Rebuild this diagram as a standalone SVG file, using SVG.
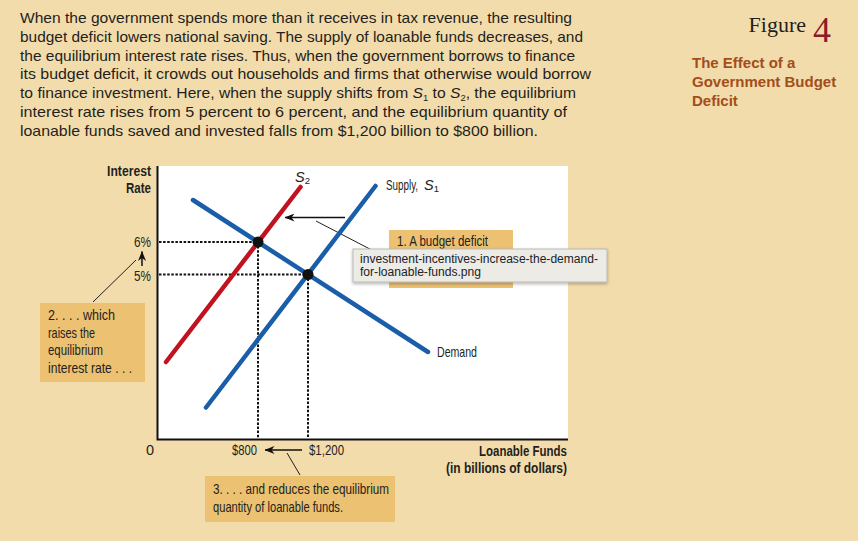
<svg xmlns="http://www.w3.org/2000/svg" width="858" height="541" viewBox="0 0 858 541">
<style>
.para{font-family:"Liberation Sans",Arial,sans-serif;font-size:15px;fill:#231f20}
.cond{font-family:"Liberation Sans",Arial,sans-serif;font-size:14.5px;fill:#231f20}
.bold{font-weight:bold}
.it{font-style:italic}
.sub{font-size:9.5px;font-style:normal}
.side{font-family:"Liberation Sans",Arial,sans-serif;font-size:15px;font-weight:bold;fill:#a24e1b}
.curve{fill:none;stroke-width:4.5;stroke-linecap:round}
.dot{fill:none;stroke:#111;stroke-width:2;stroke-dasharray:2.5 1.6}
.thin{fill:none;stroke:#231f20;stroke-width:1}
.box{fill:#ecc171}
.arr{fill:none;stroke:#111;stroke-width:1.5}
.tip{font-family:"Liberation Sans",Arial,sans-serif;font-size:12px;fill:#222}
</style>
<defs>
<marker id="ah" viewBox="0 0 10 8" refX="9.5" refY="4" markerWidth="10" markerHeight="8" markerUnits="userSpaceOnUse" orient="auto">
<path d="M10,4 L0,0 L3,4 L0,8 Z" fill="#111"/>
</marker>
<filter id="sh" x="-10%" y="-30%" width="120%" height="170%">
<feDropShadow dx="0" dy="1.5" stdDeviation="1.5" flood-color="#000" flood-opacity="0.3"/>
</filter>
</defs>
<rect width="858" height="541" fill="#f3dcab"/>
<g id="paragraph" class="para">
<text x="20" y="23" textLength="552" lengthAdjust="spacingAndGlyphs">When the government spends more than it receives in tax revenue, the resulting</text>
<text x="20" y="41.8" textLength="563" lengthAdjust="spacingAndGlyphs">budget deficit lowers national saving. The supply of loanable funds decreases, and</text>
<text x="20" y="60.6" textLength="555" lengthAdjust="spacingAndGlyphs">the equilibrium interest rate rises. Thus, when the government borrows to finance</text>
<text x="20" y="79.4" textLength="571" lengthAdjust="spacingAndGlyphs">its budget deficit, it crowds out households and firms that otherwise would borrow</text>
<text x="20" y="98.2" textLength="556" lengthAdjust="spacingAndGlyphs">to finance investment. Here, when the supply shifts from <tspan font-style="italic">S</tspan><tspan font-size="9" dy="3">1</tspan><tspan dy="-3"> to </tspan><tspan font-style="italic">S</tspan><tspan font-size="9" dy="3">2</tspan><tspan dy="-3">, the equilibrium</tspan></text>
<text x="20" y="117" textLength="547" lengthAdjust="spacingAndGlyphs">interest rate rises from 5 percent to 6 percent, and the equilibrium quantity of</text>
<text x="20" y="135.8" textLength="518" lengthAdjust="spacingAndGlyphs">loanable funds saved and invested falls from $1,200 billion to $800 billion.</text>
</g>
<g id="figure-title">
<text x="806" y="32" text-anchor="end" font-family="Liberation Serif,serif" font-size="22" fill="#231f20">Figure</text>
<text x="813" y="42" font-family="Liberation Serif,serif" font-size="36" fill="#8e1a2c">4</text>
<text class="side" x="692" y="68">The Effect of a</text>
<text class="side" x="692" y="87">Government Budget</text>
<text class="side" x="692" y="106">Deficit</text>
</g>
<g id="plot">
<rect x="157" y="166" width="411" height="273" fill="#fff"/>
<path d="M157.5,166 V439.5 H568" fill="none" stroke="#111" stroke-width="2"/>
</g>
<g id="connectors">
<path class="dot" d="M159,242 H258 M159,274.5 H308 M258,242 V438 M308,274.5 V438"/>
<path class="arr" d="M345,217.5 H285" marker-end="url(#ah)"/>
<path class="thin" d="M316,221 L389,259"/>
<path class="arr" d="M142,266 V251.5" marker-end="url(#ah)"/>
<path class="thin" d="M93,302 L136,260"/>
<path class="arr" d="M302,450 H265" marker-end="url(#ah)"/>
<path class="thin" d="M287,453 L300,475"/>
</g>
<g id="demand">
<path class="curve" stroke="#1a5ea9" d="M193,200 L428,352"/>
<text class="cond" x="437" y="357" textLength="40" lengthAdjust="spacingAndGlyphs">Demand</text>
</g>
<g id="supply-s1">
<path class="curve" stroke="#1a5ea9" d="M206,407.5 L375.5,186"/>
<text class="cond" transform="translate(386,190) scale(0.68,1)">Supply,</text>
<text class="cond it" x="424" y="190">S<tspan class="sub" dy="2">1</tspan></text>
</g>
<g id="supply-s2">
<path class="curve" stroke="#c0121f" d="M166,362 L300.5,187"/>
<text class="cond it" x="295" y="182">S<tspan class="sub" dy="2">2</tspan></text>
</g>
<g id="equilibria">
<circle cx="258" cy="242" r="5.5" fill="#111"/>
<circle cx="308" cy="274.5" r="5.5" fill="#111"/>
</g>
<g id="axis-labels" class="cond">
<text class="bold" x="107" y="176" textLength="44" lengthAdjust="spacingAndGlyphs">Interest</text>
<text class="bold" x="126" y="193" textLength="25" lengthAdjust="spacingAndGlyphs">Rate</text>
<text x="134" y="247" textLength="17" lengthAdjust="spacingAndGlyphs">6%</text>
<text x="134" y="281" textLength="17" lengthAdjust="spacingAndGlyphs">5%</text>
<text x="146" y="455">0</text>
<text x="232" y="455" textLength="25" lengthAdjust="spacingAndGlyphs">$800</text>
<text x="309" y="455" textLength="35" lengthAdjust="spacingAndGlyphs">$1,200</text>
<text class="bold" x="479" y="456" textLength="88" lengthAdjust="spacingAndGlyphs">Loanable Funds</text>
<text class="bold" x="446" y="473" textLength="121" lengthAdjust="spacingAndGlyphs">(in billions of dollars)</text>
</g>
<g id="note1">
<rect class="box" x="389" y="230" width="124" height="58"/>
<text class="cond" x="397" y="246" textLength="91" lengthAdjust="spacingAndGlyphs">1. A budget deficit</text>
</g>
<g id="note2">
<rect class="box" x="40" y="303" width="105" height="79"/>
<text class="cond" x="48" y="320" textLength="67" lengthAdjust="spacingAndGlyphs">2. . . . which</text>
<text class="cond" x="48" y="337.5" textLength="47" lengthAdjust="spacingAndGlyphs">raises the</text>
<text class="cond" x="48" y="355" textLength="55" lengthAdjust="spacingAndGlyphs">equilibrium</text>
<text class="cond" x="48" y="372.5" textLength="84" lengthAdjust="spacingAndGlyphs">interest rate . . .</text>
</g>
<g id="note3">
<rect class="box" x="205" y="476" width="190" height="46"/>
<text class="cond" x="213" y="494" textLength="176" lengthAdjust="spacingAndGlyphs">3. . . . and reduces the equilibrium</text>
<text class="cond" x="213" y="512" textLength="130" lengthAdjust="spacingAndGlyphs">quantity of loanable funds.</text>
</g>
<g id="tooltip">
<rect x="353" y="249" width="254" height="33" fill="#ecebe6" stroke="#b9b9b5" stroke-width="1" filter="url(#sh)"/>
<text class="tip" x="360" y="263" textLength="238" lengthAdjust="spacingAndGlyphs">investment-incentives-increase-the-demand-</text>
<text class="tip" x="360" y="276" textLength="121" lengthAdjust="spacingAndGlyphs">for-loanable-funds.png</text>
</g>
</svg>
